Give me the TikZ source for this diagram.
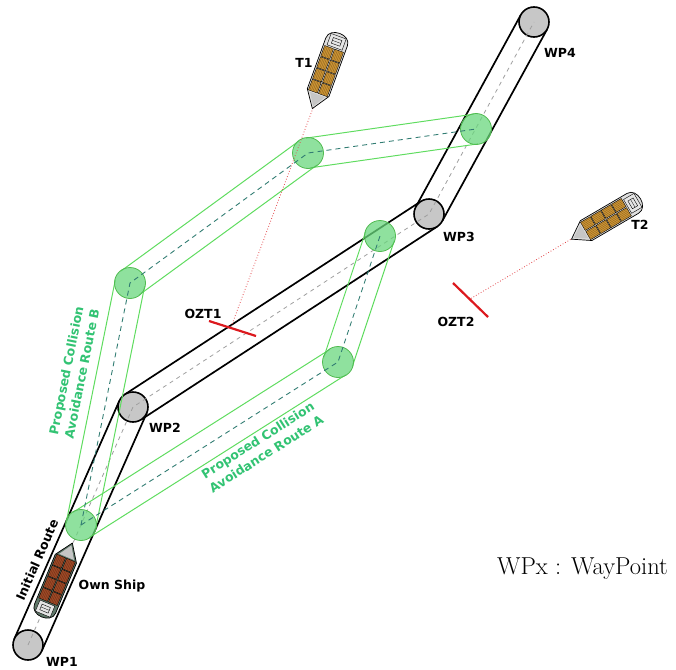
\documentclass[tikz,border=0pt]{standalone}
\usepackage{fontspec}
\newfontfamily\lblfont{DejaVu Sans}
\usetikzlibrary{calc}

\definecolor{wpfill}{gray}{0.78}
\definecolor{lanegreen}{RGB}{95,220,95}
\definecolor{dotgreen}{RGB}{105,215,125}
\definecolor{tealdash}{RGB}{50,125,115}
\definecolor{txtgreen}{RGB}{50,195,115}
\definecolor{ozred}{RGB}{220,25,30}
\definecolor{ownhull}{RGB}{95,120,105}
\definecolor{ownbox}{RGB}{160,75,40}
\definecolor{ownstripe}{RGB}{110,45,20}
\definecolor{tgtbox}{RGB}{205,150,55}
\definecolor{tgtstripe}{RGB}{140,95,25}

% corridor edges: two parallel lines at a given half width
\newcommand\lane[4]{%
  \draw[#1] ($(#2)!#4!90:(#3)$) -- ($(#3)!#4!-90:(#2)$)
            ($(#2)!#4!-90:(#3)$) -- ($(#3)!#4!90:(#2)$);}

% a container ship along the local x axis, bow at +x
\newcommand\shipbody[3]{%
  \draw[line width=0.7, fill=#1] (-31,-11.5) -- (23,-11.5) -- (40,0) -- (23,11.5) -- (-31,11.5)
     .. controls (-43,11.5) and (-43,-11.5) .. (-31,-11.5) -- cycle;
  \fill[gray!45] (25,-8) -- (37.5,0) -- (25,8) -- cycle;
  \draw[line width=0.4, fill=gray!20] (-37,-8) rectangle (-25,8);
  \draw[line width=0.4] (-34,-4.5) rectangle (-28,4.5);
  \draw[line width=0.3] (-31,-4.5) -- (-31,4.5);
  \foreach \cx in {-23.5,-11.5,0.5,12.5} {
    \foreach \cy in {-10,0.6} {
      \draw[line width=0.4, fill=#2] (\cx,\cy) rectangle ++(11.2,9.4);
      \foreach \s in {1.6,3.2,4.8,6.4,8.0}
        \draw[#3, line width=0.35] (\cx+0.8,\cy+\s) -- (\cx+10.4,\cy+\s);
    }
  }}

\tikzset{
  routeedge/.style={line width=1.7pt, black},
  wpdot/.style={circle, draw=black, line width=1.6pt, fill=wpfill, minimum size=30pt, inner sep=0pt},
  centerdash/.style={gray!75, line width=0.8pt, dash pattern=on 4pt off 4pt},
  greenedge/.style={lanegreen, line width=1pt},
  greendot/.style={circle, draw=lanegreen!85!black, line width=0.8pt, fill=dotgreen, fill opacity=0.75, minimum size=31pt, inner sep=0pt},
  greendash/.style={tealdash, line width=0.9pt, dash pattern=on 5pt off 4pt},
  lbl/.style={font=\lblfont\bfseries\fontsize{12.5}{14}\selectfont, text=black, inner sep=1pt},
  glbl/.style={font=\lblfont\bfseries\fontsize{12.5}{16}\selectfont, text=txtgreen, align=center, inner sep=0pt},
  ozt/.style={ozred, line width=2.2pt},
  sight/.style={ozred!80, line width=0.8pt, dotted},
}

\begin{document}
\begin{tikzpicture}[x=1pt, y=-1pt]
\useasboundingbox (0,0) rectangle (676,669);

% waypoints of the initial route
\coordinate (w1) at (28,645);
\coordinate (w2) at (133,407);
\coordinate (w3) at (429,214);
\coordinate (w4) at (534,22);
% avoidance route points
\coordinate (p0) at (81,525);
\coordinate (b1) at (130,283);
\coordinate (b2) at (308,153);
\coordinate (b3) at (476,129);
\coordinate (a1) at (338,362);
\coordinate (a2) at (380,236);

% initial route corridor
\lane{routeedge}{w1}{w2}{15pt}
\lane{routeedge}{w2}{w3}{15pt}
\lane{routeedge}{w3}{w4}{15pt}
\node[wpdot] (wp1) at (w1) {};
\node[wpdot] (wp2) at (w2) {};
\node[wpdot] (wp3) at (w3) {};
\node[wpdot] (wp4) at (w4) {};
\draw[centerdash] (wp1.center) -- (wp2.center) -- (wp3.center) -- (wp4.center);

% proposed avoidance routes
\lane{greenedge}{p0}{b1}{15pt}
\lane{greenedge}{b1}{b2}{15pt}
\lane{greenedge}{b2}{b3}{15pt}
\lane{greenedge}{p0}{a1}{15pt}
\lane{greenedge}{a1}{a2}{15pt}
\node[greendot] (gp0) at (p0) {};
\node[greendot] (gb1) at (b1) {};
\node[greendot] (gb2) at (b2) {};
\node[greendot] (gb3) at (b3) {};
\node[greendot] (ga1) at (a1) {};
\node[greendot] (ga2) at (a2) {};
\draw[greendash] (gp0.center) -- (gb1.center) -- (gb2.center) -- (gb3.center);
\draw[greendash] (gp0.center) -- (ga1.center) -- (ga2.center);

% closest-approach markers and sight lines
\coordinate (o1a) at (209,321);
\coordinate (o1b) at (256,336);
\coordinate (o1c) at (231,327);
\coordinate (o2a) at (453,283);
\coordinate (o2b) at (488,317);
\coordinate (o2c) at (470,299);
\coordinate (t1bow) at (313,108);
\coordinate (t2bow) at (573,238);
\draw[sight] (t1bow) -- (o1c);
\draw[sight] (t2bow) -- (o2c);
\draw[ozt] (o1a) -- (o1b);
\draw[ozt] (o2a) -- (o2b);

% ships
\begin{scope}[shift={(57,580)}, rotate=67.4]
  \shipbody{ownhull}{ownbox}{ownstripe}
\end{scope}
\begin{scope}[shift={(326,71)}, rotate=-110]
  \shipbody{gray!25}{tgtbox}{tgtstripe}
\end{scope}
\begin{scope}[shift={(606,219)}, rotate=210.3]
  \shipbody{gray!25}{tgtbox}{tgtstripe}
\end{scope}

% labels
\node[lbl] (lwp1) at (62,662) {WP1};
\node[lbl] (lwp2) at (165,428) {WP2};
\node[lbl] (lwp3) at (459,237) {WP3};
\node[lbl] (lwp4) at (560,53) {WP4};
\node[lbl] (lt1) at (304,63) {T1};
\node[lbl] (lt2) at (640,225) {T2};
\node[lbl] (lozt1) at (203,314) {OZT1};
\node[lbl] (lozt2) at (456,322) {OZT2};
\node[lbl] (lown) at (112,586) {Own Ship};
\node[lbl, rotate=66.2] (linit) at (37,560) {Initial Route};
\node[glbl, rotate=78.6] (lrb) at (74,372) {Proposed Collision\\Avoidance Route B};
\node[glbl, rotate=32.4] (lra) at (262,447) {Proposed Collision\\Avoidance Route A};
\node[anchor=base, font=\fontsize{24.5}{28}\selectfont, inner sep=0pt] (legend) at (582.5,574) {WPx : WayPoint};
\end{tikzpicture}
\end{document}
